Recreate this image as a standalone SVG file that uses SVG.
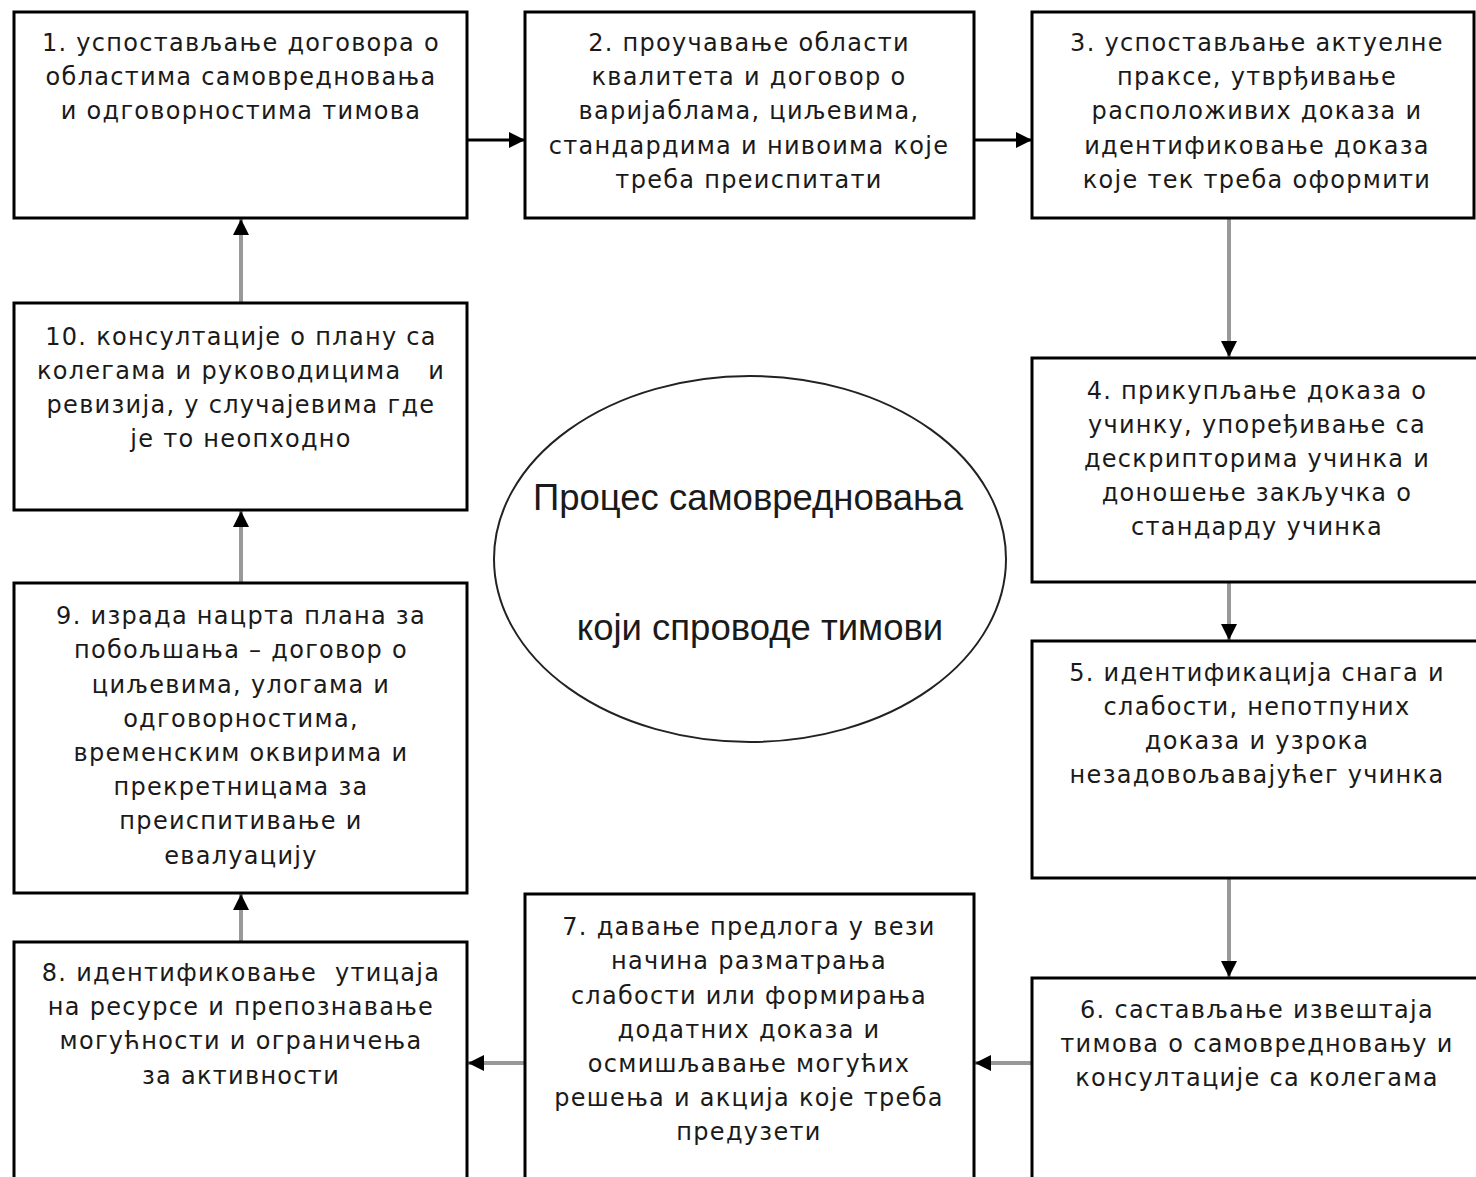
<svg xmlns="http://www.w3.org/2000/svg" width="1476" height="1177" viewBox="0 0 1476 1177">
<defs>
<style>
.box{fill:#fff;stroke:#000;stroke-width:3}
.t{font-family:"DejaVu Sans",Verdana,sans-serif;font-size:24px;letter-spacing:1.3px;fill:#1a1a1a;text-anchor:middle;white-space:pre}
.big{font-family:"Liberation Sans",Arial,sans-serif;font-size:36.5px;fill:#1a1a1a;text-anchor:middle}
.cb{stroke:#000;stroke-width:3;fill:none}
.cg{stroke:#999;stroke-width:4;fill:none}
</style>
<marker id="ah" viewBox="0 0 10 10" refX="10" refY="5" markerUnits="userSpaceOnUse" markerWidth="20" markerHeight="16" orient="auto">
<path d="M0,0 L10,5 L0,10 z" fill="#000"/>
</marker>
</defs>
<rect width="1476" height="1177" fill="#fff"/>
<g id="connectors">
<line class="cb" x1="467" y1="140" x2="525" y2="140" marker-end="url(#ah)"/>
<line class="cb" x1="974" y1="140" x2="1032" y2="140" marker-end="url(#ah)"/>
<line class="cg" x1="1229" y1="219" x2="1229" y2="357" marker-end="url(#ah)"/>
<line class="cg" x1="1229" y1="582" x2="1229" y2="640" marker-end="url(#ah)"/>
<line class="cg" x1="1229" y1="879" x2="1229" y2="977" marker-end="url(#ah)"/>
<line class="cg" x1="1031" y1="1063" x2="975" y2="1063" marker-end="url(#ah)"/>
<line class="cg" x1="524" y1="1063" x2="468" y2="1063" marker-end="url(#ah)"/>
<line class="cg" x1="241" y1="941" x2="241" y2="894" marker-end="url(#ah)"/>
<line class="cg" x1="241" y1="582" x2="241" y2="511" marker-end="url(#ah)"/>
<line class="cg" x1="241" y1="302" x2="241" y2="219" marker-end="url(#ah)"/>
</g>
<g id="n1">
<rect class="box" x="14" y="12" width="453" height="206"/>
<text class="t"><tspan x="241" y="51">1. успостављање договора о</tspan><tspan x="241" y="85">областима самовредновања</tspan><tspan x="241" y="119">и одговорностима тимова</tspan></text>
</g>
<g id="n2">
<rect class="box" x="525" y="12" width="449" height="206"/>
<text class="t"><tspan x="749" y="51">2. проучавање области</tspan><tspan x="749" y="85">квалитета и договор о</tspan><tspan x="749" y="119">варијаблама, циљевима,</tspan><tspan x="749" y="154">стандардима и нивоима које</tspan><tspan x="749" y="188">треба преиспитати</tspan></text>
</g>
<g id="n3">
<rect class="box" x="1032" y="12" width="442" height="206"/>
<text class="t"><tspan x="1257" y="51">3. успостављање актуелне</tspan><tspan x="1257" y="85">праксе, утврђивање</tspan><tspan x="1257" y="119">расположивих доказа и</tspan><tspan x="1257" y="154">идентификовање доказа</tspan><tspan x="1257" y="188">које тек треба оформити</tspan></text>
</g>
<g id="n4">
<rect class="box" x="1032" y="358" width="460" height="224"/>
<text class="t"><tspan x="1257" y="399">4. прикупљање доказа о</tspan><tspan x="1257" y="433">учинку, упоређивање са</tspan><tspan x="1257" y="467">дескрипторима учинка и</tspan><tspan x="1257" y="501">доношење закључка о</tspan><tspan x="1257" y="535">стандарду учинка</tspan></text>
</g>
<g id="n5">
<rect class="box" x="1032" y="641" width="460" height="237"/>
<text class="t"><tspan x="1257" y="681">5. идентификација снага и</tspan><tspan x="1257" y="715">слабости, непотпуних</tspan><tspan x="1257" y="749">доказа и узрока</tspan><tspan x="1257" y="783">незадовољавајућег учинка</tspan></text>
</g>
<g id="n6">
<rect class="box" x="1032" y="978" width="460" height="220"/>
<text class="t"><tspan x="1257" y="1018">6. састављање извештаја</tspan><tspan x="1257" y="1052">тимова о самовредновању и</tspan><tspan x="1257" y="1086">консултације са колегама</tspan></text>
</g>
<g id="n7">
<rect class="box" x="525" y="894" width="449" height="304"/>
<text class="t"><tspan x="749" y="935">7. давање предлога у вези</tspan><tspan x="749" y="969">начина разматрања</tspan><tspan x="749" y="1004">слабости или формирања</tspan><tspan x="749" y="1038">додатних доказа и</tspan><tspan x="749" y="1072">осмишљавање могућих</tspan><tspan x="749" y="1106">решења и акција које треба</tspan><tspan x="749" y="1140">предузети</tspan></text>
</g>
<g id="n8">
<rect class="box" x="14" y="942" width="453" height="256"/>
<text class="t"><tspan x="241" y="981">8. идентификовање  утицаја</tspan><tspan x="241" y="1015">на ресурсе и препознавање</tspan><tspan x="241" y="1049">могућности и ограничења</tspan><tspan x="241" y="1084">за активности</tspan></text>
</g>
<g id="n9">
<rect class="box" x="14" y="583" width="453" height="310"/>
<text class="t"><tspan x="241" y="624">9. израда нацрта плана за</tspan><tspan x="241" y="658">побољшања – договор о</tspan><tspan x="241" y="693">циљевима, улогама и</tspan><tspan x="241" y="727">одговорностима,</tspan><tspan x="241" y="761">временским оквирима и</tspan><tspan x="241" y="795">прекретницама за</tspan><tspan x="241" y="829">преиспитивање и</tspan><tspan x="241" y="864">евалуацију</tspan></text>
</g>
<g id="n10">
<rect class="box" x="14" y="303" width="453" height="207"/>
<text class="t"><tspan x="241" y="345">10. консултације о плану са</tspan><tspan x="241" y="379">колегама и руководицима   и</tspan><tspan x="241" y="413">ревизија, у случајевима где</tspan><tspan x="241" y="447">је то неопходно</tspan></text>
</g>
<g id="center">
<ellipse cx="750" cy="559" rx="256" ry="183" fill="#fff" stroke="#222" stroke-width="2"/>
<text class="big"><tspan x="748" y="510">Процес самовредновања</tspan><tspan x="760" y="640">који спроводе тимови</tspan></text>
</g>
</svg>
